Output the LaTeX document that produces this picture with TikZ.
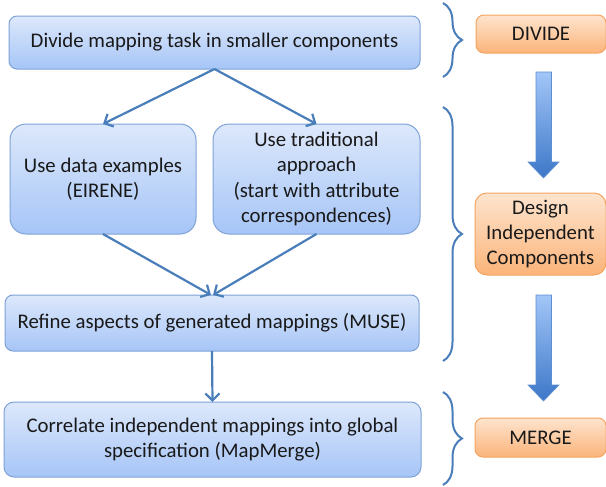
\documentclass[tikz,border=0pt]{standalone}
\usepackage{fontspec}
\setmainfont{Carlito}
\usetikzlibrary{arrows.meta,decorations.pathreplacing}

\definecolor{blueTop}{HTML}{DDE8FB}
\definecolor{blueBot}{HTML}{A6C5F7}
\definecolor{blueLine}{HTML}{7EA2D6}
\definecolor{connBlue}{HTML}{4A7EBB}
\definecolor{orangeTop}{HTML}{FDE4CE}
\definecolor{orangeBot}{HTML}{FBB47A}
\definecolor{orangeLine}{HTML}{F4A460}
\definecolor{arrowTop}{HTML}{A2C6F8}
\definecolor{arrowBot}{HTML}{3D77C8}
\definecolor{arrowLine}{HTML}{5C8ED2}

\tikzset{
  stepbox/.style={draw=blueLine, line width=0.5pt, top color=blueTop, bottom color=blueBot,
    rounded corners=4pt, inner sep=0pt, outer sep=0pt, align=center, text=black!90},
  phasebox/.style={draw=orangeLine, line width=0.5pt, top color=orangeTop, bottom color=orangeBot,
    rounded corners=4pt, inner sep=0pt, outer sep=0pt, align=center, text=black!90},
  conn/.style={draw=connBlue, line width=1.1pt, -{Straight Barb[length=3.5pt,width=7pt]}},
  phasebrace/.style={draw=connBlue, line width=1pt, decorate, decoration={brace,amplitude=9.5pt}}
}

\begin{document}
\begin{tikzpicture}[x=0.5pt,y=-0.5pt,font=\fontsize{10.4}{12.6}\selectfont]
\useasboundingbox (0,0) rectangle (606,487);

%draw steps
\draw (214.5,42.5) node[stepbox, minimum width=205.5pt, minimum height=26.5pt, name=task] {Divide mapping task in smaller components};
\draw (103,179) node[stepbox, rounded corners=8pt, minimum width=93pt, minimum height=55pt, name=eirene] {Use data examples\\(EIRENE)};
\draw (316.5,179) node[stepbox, rounded corners=8pt, minimum width=103.5pt, minimum height=55pt, name=trad] {Use traditional\\approach\\(start with attribute\\correspondences)};
\draw (212,323) node[stepbox, minimum width=207pt, minimum height=28pt, name=muse] {Refine aspects of generated mappings (MUSE)};
\draw (212.5,439.5) node[stepbox, rounded corners=5pt, minimum width=208.5pt, minimum height=37.5pt, name=mapmerge] {Correlate independent mappings into global\\specification (MapMerge)};

%draw connectors
\draw[conn] (task.south) -- (eirene.north);
\draw[conn] (task.south) -- (trad.north);
\draw[conn] (eirene.south) -- ([xshift=-0.5pt]muse.north);
\draw[conn] (trad.south) -- ([xshift=0.5pt]muse.north);
\draw[conn] (muse.south) -- (mapmerge.north);

%draw braces
\draw[phasebrace] (443,3) -- (443,77);
\draw[phasebrace] (443,107) -- (443,361);
\draw[phasebrace] (443,392) -- (443,485);

%draw phases
\draw (541,34) node[phasebox, minimum width=65pt, minimum height=19pt, name=divide] {DIVIDE};
\draw (540.5,234) node[phasebox, rounded corners=6pt, minimum width=65.5pt, minimum height=41pt, name=design] {Design\\Independent\\Components};
\draw (540.5,437.5) node[phasebox, minimum width=65.5pt, minimum height=19.5pt, name=merge] {MERGE};

%draw big arrows
\foreach \ytop/\ybot in {72/178, 295/401}{
  \shade[top color=arrowTop, bottom color=arrowBot, draw=arrowLine, line width=0.3pt]
    (536,\ytop) -- (551.5,\ytop) -- (551.5,\ybot-16) -- (559,\ybot-16) -- (543.5,\ybot)
    -- (528,\ybot-16) -- (536,\ybot-16) -- cycle;
}
\end{tikzpicture}
\end{document}
